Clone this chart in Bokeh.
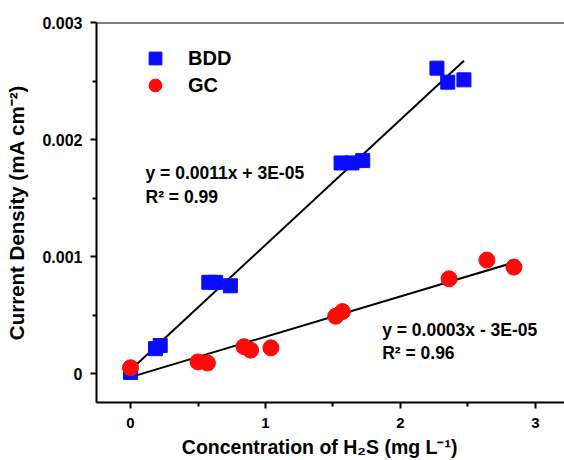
import numpy as np
from bokeh.plotting import figure
from bokeh.models import (Range1d, FixedTicker, CustomJSTickFormatter, Label, Legend,
                          LegendItem, Span)
from bokeh.embed import file_html
from bokeh.resources import INLINE

# ---- data ----
bdd_x = [0.0, 0.185, 0.22, 0.58, 0.63, 0.74, 1.56, 1.64, 1.72, 2.27, 2.35, 2.47]
bdd_y = [0.00001, 0.000213, 0.00024, 0.00078, 0.00078, 0.00075,
         0.0018, 0.0018, 0.00182, 0.00261, 0.00249, 0.00251]
gc_x = [0.0, 0.5, 0.57, 0.84, 0.89, 1.04, 1.52, 1.57, 2.36, 2.64, 2.84]
gc_y = [0.00005, 0.0001, 0.00009, 0.00023, 0.0002, 0.00022,
        0.00049, 0.00053, 0.00081, 0.00097, 0.00091]
bdd_fit = [0.00107, 0.00003]   # slope, intercept
bdd_fit_x = [0.0, 2.47]
gc_fit = [0.000345, -0.00003]
gc_fit_x = [0.0, 2.82]
x_ticks = [0, 1, 2, 3]
y_ticks = [0, 0.001, 0.002, 0.003]
x_title = "Concentration of H\u2082S (mg L\u207b\u00b9)"
y_title = "Current Density (mA cm\u207b\u00b2)"

FONT = "Liberation Sans"

p = figure(width=564, height=460, output_backend="svg", toolbar_location=None,
           x_range=Range1d(-0.252, 3.215), y_range=Range1d(-0.000247, 0.003),
           min_border_left=96, min_border_right=0, min_border_top=22,
           min_border_bottom=57)
p.grid.visible = False
p.outline_line_color = None
p.background_fill_color = "white"

for ax in (p.xaxis[0], p.yaxis[0]):
    ax.axis_line_width = 2
    ax.axis_line_color = "black"
    ax.major_tick_line_width = 2
    ax.minor_tick_line_width = 2
    ax.major_tick_out = 6
    ax.major_tick_in = 0
    ax.minor_tick_out = 4
    ax.minor_tick_in = 0
    ax.major_label_text_font = FONT
    ax.major_label_text_font_style = "bold"
    ax.major_label_text_color = "black"
    ax.axis_label_text_font = FONT
    ax.axis_label_text_font_style = "bold"
    ax.axis_label_text_color = "black"

p.xaxis.ticker = FixedTicker(ticks=x_ticks, minor_ticks=[0.5, 1.5, 2.5])
p.yaxis.ticker = FixedTicker(ticks=y_ticks, minor_ticks=[0.0005, 0.0015, 0.0025])
p.yaxis.formatter = CustomJSTickFormatter(code="return tick == 0 ? '0' : tick.toFixed(3);")
p.xaxis.major_label_text_font_size = "15px"
p.yaxis.major_label_text_font_size = "16px"
p.yaxis.axis_label_text_font_size = "20.5px"
p.xaxis.axis_label_text_font_size = "19.5px"
p.xaxis.major_label_text_line_height = 1.0
p.xaxis.axis_label_text_line_height = 1.0
p.xaxis.major_label_standoff = 9
p.yaxis.major_label_standoff = 8
p.yaxis.axis_label = y_title
# trailing no-break spaces nudge the centred title slightly left, as in the original
p.xaxis.axis_label = x_title + "\u00a0" * 4
p.xaxis.axis_label_standoff = 5
p.yaxis.axis_label_standoff = 11

top = Span(location=0.003, dimension="width", line_color="black", line_width=2)
p.add_layout(top)

fx = np.array(bdd_fit_x)
p.line(fx, bdd_fit[0] * fx + bdd_fit[1], line_color="black", line_width=2)
gx = np.array(gc_fit_x)
p.line(gx, gc_fit[0] * gx + gc_fit[1], line_color="black", line_width=2)

r1 = p.scatter(bdd_x, bdd_y, marker="square", size=14, fill_color="#0a0aff",
               line_color="#0a0aff")
r2 = p.scatter(gc_x, gc_y, marker="circle", size=16, fill_color="#ff0a0a",
               line_color="#ff0a0a")

def make_legend(label, rend, loc):
    return Legend(items=[LegendItem(label=label, renderers=[rend])],
                  location=loc, border_line_color=None, background_fill_alpha=0,
                  padding=0, margin=0, spacing=0, glyph_width=32, glyph_height=32,
                  label_height=32, label_standoff=17,
                  label_text_font=FONT, label_text_font_style="bold",
                  label_text_font_size="20px", label_text_color="black")

p.add_layout(make_legend("BDD", r1, (43, 328)))
p.add_layout(make_legend("GC", r2, (43, 301)))

def lab(x, y, t):
    p.add_layout(Label(x=x, y=y, text=t, text_font=FONT, text_font_style="bold",
                       text_font_size="17.5px", text_color="black",
                       text_baseline="middle"))

lab(0.111, 0.001714, "y = 0.0011x + 3E-05")
lab(0.111, 0.001509, "R\u00b2 = 0.99")
lab(1.864, 0.000375, "y = 0.0003x - 3E-05")
lab(1.864, 0.000179, "R\u00b2 = 0.96")

open("out.html", "w").write(file_html(p, INLINE))
